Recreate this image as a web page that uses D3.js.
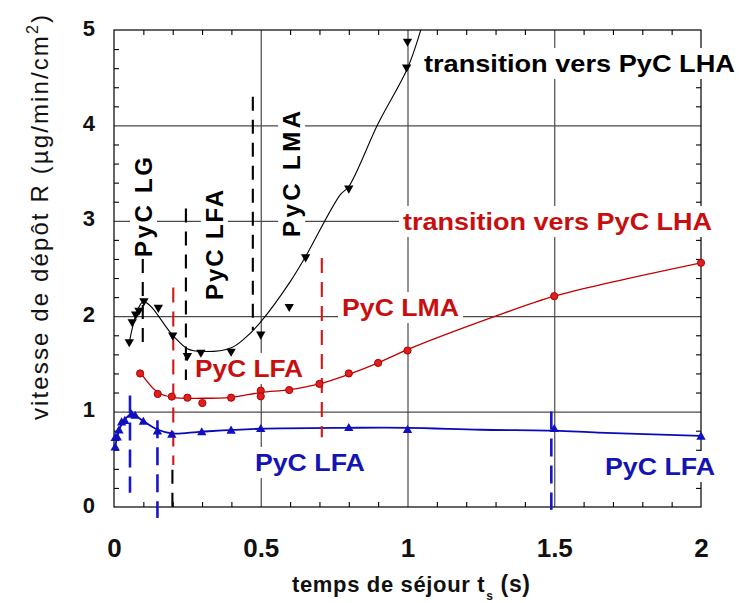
<!DOCTYPE html>
<html><head><meta charset="utf-8">
<script src="https://cdn.jsdelivr.net/npm/d3@7"></script>
<style>body{margin:0;background:#fff} svg{display:block}</style>
</head><body><svg id="c" width="739" height="603"></svg>
<script>
// ---------- data ----------
const xTicks = [0, 0.5, 1, 1.5, 2];
const xTickLabels = ["0", "0.5", "1", "1.5", "2"];
const yTicks = [0, 1, 2, 3, 4, 5];
const yTickLabels = ["0", "1", "2", "3", "4", "5"];

// black series (triangles down)
const blackT = [0.052, 0.062, 0.074, 0.085, 0.102, 0.151, 0.2, 0.25, 0.296, 0.399, 0.5, 0.597, 0.653, 0.80, 0.997, 1.0];
const blackR = [1.72, 1.93, 2.01, 2.05, 2.15, 2.08, 1.79, 1.575, 1.61, 1.62, 1.80, 2.09, 2.61, 3.33, 4.60, 4.87];
// black fitted curve
const blackFitT = [0.052, 0.1, 0.2, 0.25, 0.3, 0.4, 0.45, 0.5, 0.6, 0.65, 0.77, 0.8, 0.9, 1.0, 1.045, 1.07];
const blackFitR = [1.72, 2.15, 1.8, 1.66, 1.63, 1.67, 1.78, 1.94, 2.36, 2.61, 3.27, 3.36, 4.02, 4.6, 5.0, 5.3];

// red series (circles)
const redT = [0.089, 0.149, 0.197, 0.25, 0.301, 0.399, 0.5, 0.5, 0.597, 0.70, 0.80, 0.90, 1.0, 1.5, 2.0];
const redR = [1.40, 1.185, 1.157, 1.146, 1.09, 1.146, 1.22, 1.16, 1.226, 1.29, 1.40, 1.51, 1.64, 2.21, 2.56];
const redFitT = [0.085, 0.15, 0.2, 0.3, 0.4, 0.5, 0.6, 0.7, 0.8, 0.9, 1.0, 1.3, 1.5, 1.7, 2.0];
const redFitR = [1.43, 1.2, 1.15, 1.14, 1.15, 1.2, 1.23, 1.29, 1.39, 1.51, 1.65, 2.0, 2.21, 2.36, 2.56];

// blue series (triangles up)
const blueT = [0.004, 0.004, 0.011, 0.017, 0.026, 0.037, 0.06, 0.072, 0.10, 0.148, 0.197, 0.299, 0.399, 0.5, 0.80, 1.0, 1.5, 2.0];
const blueR = [0.632, 0.73, 0.737, 0.81, 0.894, 0.91, 0.975, 0.964, 0.90, 0.80, 0.765, 0.79, 0.807, 0.825, 0.835, 0.815, 0.825, 0.745];
const blueFitT = [0.004, 0.02, 0.04, 0.06, 0.1, 0.15, 0.2, 0.3, 0.5, 0.8, 1.0, 1.25, 1.5, 1.65, 2.0];
const blueFitR = [0.63, 0.83, 0.93, 0.97, 0.9, 0.81, 0.77, 0.79, 0.82, 0.83, 0.83, 0.81, 0.80, 0.78, 0.745];

// vertical dashed boundaries
const dashT   = [0.0545, 0.148, 1.49, 0.098, 0.245, 0.473, 0.199, 0.202, 0.708];
const dashTop = [1.17, 0.91, 1.0, 2.6, 3.13, 4.3, 0.39, 2.3, 2.61];
const dashBot = [0.15, -0.115, -0.03, 1.72, 1.33, 1.855, 0.0, 0.44, 0.73];
const dashCol = ["blue", "blue", "blue", "black", "black", "black", "black", "red", "red"];

// ---------- drawing ----------
const FONT = "'Liberation Sans', Arial, sans-serif";
const COL = {black: "#000", red: "#c80f0f", blue: "#1414b4"};
const svg = d3.select("#c");
const L = 114, R = 701, T = 30, B = 507;
const x = d3.scaleLinear().domain([0, 2]).range([L, R]);
const y = d3.scaleLinear().domain([0, 5]).range([B, T]);

svg.append("defs").append("clipPath").attr("id", "plot")
  .append("rect").attr("x", L).attr("y", T).attr("width", R - L).attr("height", B - T);

function clean(g) { g.select(".domain").remove(); return g; }

// grid
svg.append("g").attr("transform", `translate(0,${B})`)
  .call(d3.axisBottom(x).tickValues([0.5, 1, 1.5]).tickSize(-(B - T)).tickFormat(""))
  .call(clean).selectAll("line").attr("stroke", "#4a4a4a").attr("stroke-width", 1.2);
svg.append("g").attr("transform", `translate(${L},0)`)
  .call(d3.axisLeft(y).tickValues([1, 2, 3, 4]).tickSize(-(R - L)).tickFormat(""))
  .call(clean).selectAll("line").attr("stroke", "#4a4a4a").attr("stroke-width", 1.2);

// frame
svg.append("rect").attr("x", L).attr("y", T).attr("width", R - L).attr("height", B - T)
  .attr("fill", "none").attr("stroke", "#000").attr("stroke-width", 1.2);

// minor ticks (inward on all sides)
const minorX = d3.range(1, 20).map(i => i / 10).filter(v => Math.abs(v * 2 - Math.round(v * 2)) > 1e-6);
const minorY = d3.range(1, 25).map(i => i / 5).filter(v => Math.abs(v - Math.round(v)) > 1e-6);
[[d3.axisBottom(x).tickValues(minorX), `translate(0,${B})`],
 [d3.axisTop(x).tickValues(minorX), `translate(0,${T})`],
 [d3.axisLeft(y).tickValues(minorY), `translate(${L},0)`],
 [d3.axisRight(y).tickValues(minorY), `translate(${R},0)`]].forEach(([ax, tr]) => {
  svg.append("g").attr("transform", tr).call(ax.tickSize(-5).tickFormat(""))
    .call(clean).selectAll("line").attr("stroke", "#000").attr("stroke-width", 1.1);
});

// tick labels
const gx = svg.append("g").attr("transform", `translate(0,${B})`)
  .call(d3.axisBottom(x).tickValues(xTicks).tickSize(0).tickFormat((d, i) => xTickLabels[i])).call(clean);
gx.selectAll("text").attr("y", 50).attr("dy", null)
  .attr("font-family", FONT).attr("font-size", 26).attr("font-weight", "bold").attr("fill", "#111");
const gy = svg.append("g").attr("transform", `translate(${L},0)`)
  .call(d3.axisLeft(y).tickValues(yTicks).tickSize(0).tickFormat((d, i) => yTickLabels[i])).call(clean);
gy.selectAll("text").attr("x", -19).attr("dy", "0.23em")
  .attr("font-family", FONT).attr("font-size", 22).attr("font-weight", "bold").attr("fill", "#111");

// annotation labels with white background
function label(txt, px, py, color, len, rot) {
  const g = svg.append("g").attr("transform", `translate(${px},${py})` + (rot ? " rotate(-90)" : ""));
  const r = g.append("rect").attr("fill", "#fff");
  const t = g.append("text").text(txt).attr("x", 0).attr("y", 0)
    .attr("font-family", FONT).attr("font-size", 24).attr("font-weight", "bold").attr("fill", color)
    .attr("textLength", len).attr("lengthAdjust", rot ? "spacing" : "spacingAndGlyphs");
  const bb = t.node().getBBox();
  const p = rot ? 2 : 4;
  r.attr("x", bb.x - 4).attr("y", bb.y - p + 2).attr("width", bb.width + 8).attr("height", bb.height + 2 * p - 4);
}
label("transition vers PyC LHA", x(1.056), y(4.56), COL.black, 311, false);
label("transition vers PyC LHA", x(0.985), y(2.904), COL.red, 309, false);
label("PyC LMA", x(0.777), y(2.002), COL.red, 117, false);
label("PyC LFA", x(0.276), y(1.363), COL.red, 108, false);
label("PyC LFA", x(0.480), y(0.377), COL.blue, 110, false);
label("PyC LFA", x(1.673), y(0.335), COL.blue, 110, false);
label("PyC LG", x(0.1295), y(2.62), COL.black, 100, true);
label("PyC LFA", x(0.371), y(2.17), COL.black, 110, true);
label("PyC LMA", x(0.634), y(2.83), COL.black, 126, true);

// fitted curves
const line = d3.line().x(d => x(d[0])).y(d => y(d[1])).curve(d3.curveCatmullRom.alpha(0.5));
const curves = svg.append("g").attr("clip-path", "url(#plot)");
[[blackFitT, blackFitR, COL.black, 1.1], [redFitT, redFitR, "#c00000", 1.3], [blueFitT, blueFitR, "#0a0ab8", 1.8]]
  .forEach(([ts, rs, c, w]) => {
    curves.append("path").attr("d", line(ts.map((t, i) => [t, rs[i]])))
      .attr("fill", "none").attr("stroke", c).attr("stroke-width", w);
  });

// dashed verticals
const dashStyle = {
  blue: {c: "#1818c8", w: 2.6, d: "18,9"},
  black: {c: "#000", w: 2.1, d: "14,9"},
  red: {c: "#d01818", w: 2.1, d: "15,9"}
};
svg.append("g").selectAll("line").data(dashT).join("line")
  .attr("x1", d => x(d)).attr("x2", d => x(d))
  .attr("y1", (d, i) => y(dashTop[i])).attr("y2", (d, i) => y(dashBot[i]))
  .attr("stroke", (d, i) => dashStyle[dashCol[i]].c)
  .attr("stroke-width", (d, i) => dashStyle[dashCol[i]].w)
  .attr("stroke-dasharray", (d, i) => dashStyle[dashCol[i]].d);

// markers
const tri = d3.symbol().type(d3.symbolTriangle).size(38)();
const mk = svg.append("g");
mk.selectAll(".b").data(blackT).join("path").attr("class", "b").attr("d", tri)
  .attr("transform", (d, i) => `translate(${x(d)},${y(blackR[i]) - 1}) rotate(180)`).attr("fill", COL.black);
mk.selectAll(".r").data(redT).join("circle").attr("class", "r")
  .attr("cx", d => x(d)).attr("cy", (d, i) => y(redR[i])).attr("r", 3.6)
  .attr("fill", "#e02020").attr("stroke", "#b00000").attr("stroke-width", 1);
mk.selectAll(".u").data(blueT).join("path").attr("class", "u").attr("d", tri)
  .attr("transform", (d, i) => `translate(${x(d)},${y(blueR[i]) + 1})`).attr("fill", "#1010c0");

// axis titles
const yt = svg.append("text").attr("transform", "translate(48,420) rotate(-90)")
  .attr("font-family", FONT).attr("font-size", 24).attr("fill", "#111")
  .attr("textLength", 405).attr("lengthAdjust", "spacing");
yt.append("tspan").text("vitesse de dépôt R (µg/min/cm");
yt.append("tspan").text("2").attr("font-size", 16).attr("dy", -10);
yt.append("tspan").text(")").attr("dy", 10);

const xt = svg.append("text").attr("x", 292).attr("y", 592)
  .attr("font-family", FONT).attr("font-size", 22).attr("font-weight", "bold").attr("fill", "#111")
  .attr("textLength", 238).attr("lengthAdjust", "spacing");
xt.append("tspan").text("temps de séjour t");
xt.append("tspan").text("s").attr("font-size", 12).attr("dy", 8).attr("dx", 1);
xt.append("tspan").text(" (s)").attr("font-size", 23).attr("dy", -8);
</script></body></html>
